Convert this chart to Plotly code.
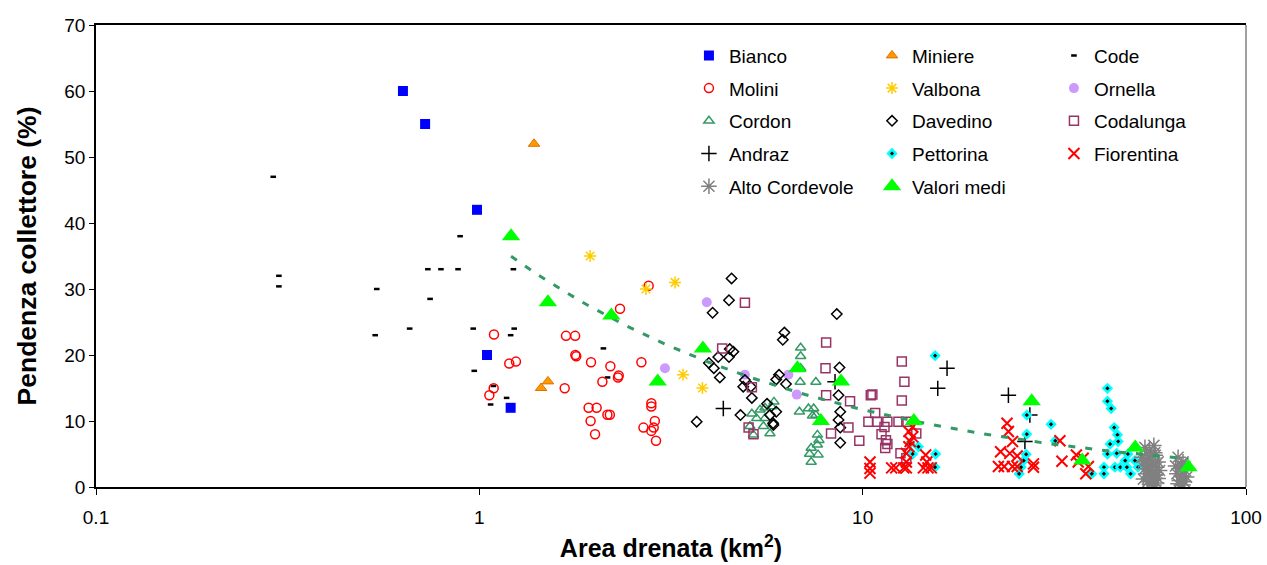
import numpy as np
import plotly.graph_objects as go

# ---- data: drained area (km2) and channel slope (%) per basin ----
bianco_x = [0.632, 0.722, 0.986, 1.047, 1.207]
bianco_y = [60, 55, 42, 20, 12]

miniere_x = [1.389, 1.51, 1.449]
miniere_y = [52, 16, 15]

code_x = [0.29, 0.30, 0.30, 0.54, 0.734, 0.794, 0.88, 1.227, 0.891, 0.744, 0.658,
          0.535, 0.964, 1.233, 1.207, 0.97, 1.088, 1.178, 1.07, 2.107, 2.16]
code_y = [47, 32, 30.4, 30, 33, 33, 33, 33, 38, 28.5, 24,
          23, 24, 24, 23, 17.6, 15.3, 13.5, 12.5, 21.0, 16.6]

molini_x = [2.328, 1.092, 1.683, 1.778, 1.78, 1.79, 1.197, 1.246, 1.956, 2.197, 2.647,
            2.31, 2.30, 2.094, 1.67, 1.09, 1.062, 1.928, 2.023, 2.158, 2.19, 1.951,
            2.004, 2.81, 2.81, 2.87, 2.68, 2.85, 2.81, 2.89, 2.765]
molini_y = [27.0, 23.1, 22.9, 22.9, 20.0, 19.8, 18.7, 19.0, 18.9, 18.3, 18.9,
            16.9, 16.6, 15.95, 14.95, 14.95, 13.9, 12.0, 12.0, 10.95, 10.95, 10.0,
            8.0, 12.7, 12.2, 10.0, 9.0, 9.0, 8.5, 7.0, 30.5]

valbona_x = [1.945, 3.24, 2.72, 3.40, 3.82]
valbona_y = [35, 31, 30, 17, 15]

ornella_x = [3.92, 3.05, 4.93, 6.4, 6.73]
ornella_y = [28, 18, 17, 17, 14]

cordon_x = [5.08, 5.14, 5.19, 5.29, 5.40, 5.51, 5.56, 5.56, 5.73, 5.79, 5.87,
            6.84, 6.87, 6.89, 6.89, 6.89, 7.22, 7.45, 7.40, 7.55, 7.55, 7.62,
            7.69, 7.62, 7.34, 7.65, 7.34, 7.27]
cordon_y = [9.2, 11.1, 7.9, 10.4, 11.7, 9.2, 10.4, 12.0, 8.1, 12.2, 12.9,
            11.4, 15.9, 21.1, 19.8, 18.0, 11.9, 11.9, 10.8, 10.9, 15.9, 7.9,
            7.1, 6.4, 5.9, 4.9, 3.8, 5.0]

davedino_x = [4.55, 4.48, 4.06, 6.25, 6.19, 4.50, 4.60, 4.20, 4.48, 3.97, 4.09,
              4.24, 4.93, 4.88, 5.11, 5.14, 6.05, 5.95, 6.31, 5.63, 5.95, 5.73,
              5.84, 5.85, 4.80, 3.69, 8.56, 8.70, 8.65, 8.74, 8.65, 8.74, 8.74]
davedino_y = [31.6, 28.3, 26.4, 23.4, 22.3, 20.9, 20.5, 19.7, 19.7, 18.8, 18.0,
              16.6, 16.2, 15.2, 15.2, 13.5, 17.0, 16.3, 15.6, 12.6, 11.4, 10.9,
              9.65, 9.4, 10.9, 9.9, 26.2, 18.1, 13.9, 11.4, 10.15, 9.0, 6.7]

codalunga_x = [4.93, 4.30, 5.14, 5.04, 5.19, 8.03, 8.0, 8.03, 8.27, 9.27, 9.18,
               9.80, 10.5, 10.6, 10.78, 10.35, 10.9, 11.6, 12.4, 13.0, 11.4, 11.2,
               11.5, 11.6, 11.45, 12.65, 12.85, 12.65, 12.55, 13.0, 13.8]
codalunga_y = [27.9, 21.0, 15.1, 9.0, 8.0, 21.9, 18.0, 13.9, 8.1, 13.0, 9.0,
               7.0, 13.9, 14.0, 11.2, 9.9, 9.9, 9.9, 9.9, 9.9, 9.1, 8.0,
               7.1, 6.5, 5.9, 19.0, 15.95, 13.1, 5.1, 4.35, 8.1]

andraz_x = [4.33, 8.47, 16.6, 15.7, 24.0, 26.5, 27.3]
andraz_y = [11.9, 15.95, 18.0, 14.95, 13.9, 6.9, 10.9]

pettorina_x = [13.3, 13.5, 13.98, 15.45, 15.5, 15.45, 26.8, 26.8, 26.7, 26.3, 25.9,
               25.6, 31.0, 31.8, 39.6, 42.6, 42.6, 43.5, 43.5, 44.5, 45.3, 46.2,
               46.4, 44.2, 43.5, 46.0, 45.5, 47.0, 48.9, 48.4, 49.2, 50.0, 51.3, 52.3]
pettorina_y = [6.6, 5.0, 6.1, 19.9, 5.0, 3.0, 10.9, 8.0, 4.95, 4.0, 3.0,
               2.0, 9.5, 7.0, 2.0, 3.0, 2.0, 14.95, 13.0, 11.9, 9.0, 7.9,
               6.9, 6.5, 5.0, 5.1, 3.0, 3.0, 3.0, 4.0, 5.0, 2.0, 4.0, 3.0]

fiorentina_x = [10.45, 10.45, 10.45, 11.9, 12.2, 12.8, 13.0, 13.0, 13.0, 13.2, 13.3,
                13.5, 13.2, 13.5, 14.6, 14.7, 14.4, 14.8, 15.1,
                23.8, 24.0, 24.6, 22.9, 24.2, 25.3, 22.6, 23.4, 24.6, 25.3, 27.9, 27.9,
                32.7, 33.1, 36.1, 37.6, 38.8, 38.2, 36.5]
fiorentina_y = [3.8, 2.8, 2.1, 2.9, 2.9, 2.9, 2.9, 3.8, 5.1, 6.1, 6.9,
                7.6, 8.4, 9.1, 4.85, 3.8, 2.9, 2.9, 2.9,
                9.65, 8.4, 6.9, 5.35, 5.1, 4.7, 3.1, 3.1, 3.1, 3.1, 3.0, 3.5,
                7.0, 3.9, 4.85, 4.35, 3.1, 2.0, 3.8]

alto_x = [54.5, 56.0, 57.5, 55.0, 58.0, 53.5, 56.5, 54.0, 57.0, 59.0, 55.5,
          58.5, 54.5, 56.0, 57.5, 59.5, 55.0, 58.0, 56.5, 54.0, 57.0, 59.0,
          55.5, 58.5, 56.0, 57.5, 55.0, 57.8,
          66.5, 68.5, 65.5, 67.5, 69.5, 66.0, 68.0, 70.0, 67.0, 69.0, 66.5, 68.5, 67.8]
alto_y = [6.0, 5.5, 6.3, 5.0, 4.8, 4.5, 4.2, 3.8, 3.5, 3.8, 3.2,
          3.0, 2.8, 2.5, 2.2, 2.5, 2.0, 1.8, 1.5, 1.2, 1.0, 1.3,
          0.8, 0.6, 0.4, 0.3, 4.0, 5.2,
          4.5, 3.8, 3.2, 2.8, 2.5, 2.0, 1.6, 1.5, 1.0, 0.8, 0.5, 0.3, 3.3]

medi_x = [1.21, 1.51, 2.21, 2.92, 3.83, 6.76, 7.78, 8.78, 13.6, 27.6, 37.4, 51.4, 70.8]
medi_y = [38, 28, 26, 16, 21, 18, 10, 16, 10, 13, 4, 6, 3]

x_tick_vals = [0.1, 1, 10, 100]
x_tick_text = ["0.1", "1", "10", "100"]

FONT = "Arial, 'Liberation Sans', sans-serif"

fig = go.Figure()


def add(name, x, y, symbol, color, size, legend, line_color=None, line_width=1.5):
    fig.add_trace(go.Scatter(
        x=x, y=y, mode="markers", name=name, legend=legend, legendgroup=name,
        marker=dict(symbol=symbol, color=color, size=size,
                    line=dict(color=line_color or color, width=line_width)),
    ))


add("Bianco", bianco_x, bianco_y, "square", "#0000FF", 10, "legend", line_width=0)
add("Miniere", miniere_x, miniere_y, "triangle-up", "#FF9900", 10, "legend2",
    line_color="#E07000", line_width=1)
add("Code", code_x, code_y, "line-ew-open", "#000000", 4, "legend3", line_width=2.5)
add("Molini", molini_x, molini_y, "circle-open", "#FF0000", 9, "legend")
add("Valbona", valbona_x, valbona_y, "asterisk-open", "#FFCC00", 10, "legend2")
add("Ornella", ornella_x, ornella_y, "circle", "#CC99FF", 10, "legend3", line_width=0)
add("Cordon", cordon_x, cordon_y, "triangle-up-open", "#339966", 9, "legend")
add("Davedino", davedino_x, davedino_y, "diamond-open", "#000000", 8, "legend2")
add("Codalunga", codalunga_x, codalunga_y, "square-open", "#993366", 9, "legend3")
add("Andraz", andraz_x, andraz_y, "cross-thin-open", "#000000", 11, "legend")
add("Pettorina", pettorina_x, pettorina_y, "diamond", "#000000", 6, "legend2",
    line_color="#00FFFF", line_width=2.5)
add("Fiorentina", fiorentina_x, fiorentina_y, "x-thin-open", "#FF0000", 11, "legend3",
    line_width=2)
add("Alto Cordevole", alto_x, alto_y, "asterisk-open", "#808080", 13, "legend",
    line_width=1.5)

# power-law trend fitted to the mean values
b, log_a = np.polyfit(np.log(medi_x), np.log(medi_y), 1)
trend_x = np.geomspace(min(medi_x), max(medi_x), 80)
trend_y = np.exp(log_a) * trend_x ** b
fig.add_trace(go.Scatter(
    x=trend_x, y=trend_y, mode="lines", showlegend=False, hoverinfo="skip",
    line=dict(color="#339966", width=3, dash="7px,10px"),
))

add("Valori medi", medi_x, medi_y, "triangle-up", "#00FF00", 16, "legend2", line_width=0)

legend_common = dict(
    font=dict(family=FONT, size=19, color="#000000"),
    bgcolor="rgba(0,0,0,0)", borderwidth=0, tracegroupgap=5,
    xanchor="left", yanchor="top", y=0.975, orientation="v",
)

fig.update_layout(
    width=1267, height=565,
    margin=dict(l=96, r=21, t=25, b=78, autoexpand=False),
    paper_bgcolor="white", plot_bgcolor="white",
    font=dict(family=FONT, color="#000000"),
    legend=dict(x=0.5156, **legend_common),
    legend2=dict(x=0.6748, **legend_common),
    legend3=dict(x=0.833, **legend_common),
    xaxis=dict(
        type="log", range=[-1, 2], automargin=False,
        tickvals=x_tick_vals, ticktext=x_tick_text,
        ticklabeloverflow="allow",
        ticks="outside", ticklen=6, tickcolor="#000000",
        showline=True, linecolor="#000000", linewidth=1.5, mirror=True,
        showgrid=False, zeroline=False,
        tickfont=dict(family=FONT, size=19),
        ticklabelstandoff=6,
        title=dict(text="<b>Area drenata (km<sup>2</sup>)</b>",
                   font=dict(family=FONT, size=25), standoff=13),
    ),
    yaxis=dict(
        range=[0, 70], dtick=10, tick0=0, automargin=False,
        ticks="outside", ticklen=5, tickcolor="#000000",
        showline=True, linecolor="#000000", linewidth=1.5, mirror=False,
        showgrid=False, zeroline=False,
        tickfont=dict(family=FONT, size=19),
        title=dict(text="<b>Pendenza collettore (%)</b>",
                   font=dict(family=FONT, size=26.5), standoff=20),
    ),
    shapes=[dict(type="line", xref="paper", yref="paper", x0=1, x1=1, y0=0, y1=1,
                 line=dict(color="#808080", width=1.5))],
)

fig.write_html("out.html")
